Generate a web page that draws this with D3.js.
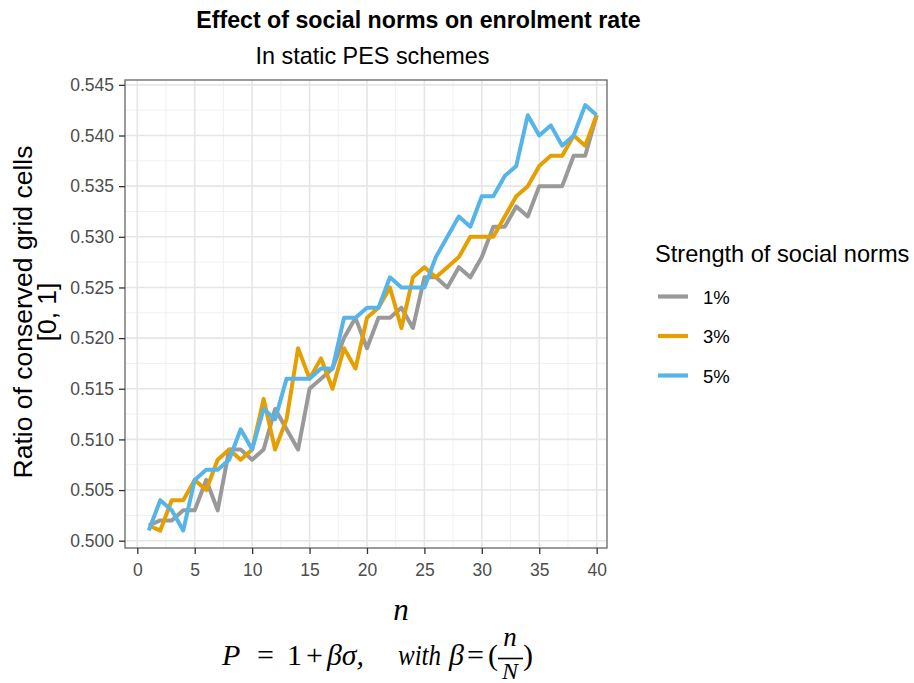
<!DOCTYPE html>
<html>
<head>
<meta charset="utf-8">
<script src="https://cdn.jsdelivr.net/npm/d3@7"></script>
<style>
  html, body { margin: 0; padding: 0; background: #ffffff; }
  svg { display: block; }
</style>
</head>
<body>
<svg id="chart" width="914" height="683"></svg>
<script>
// Number of neighbouring participants n
const nValues = [1, 2, 3, 4, 5, 6, 7, 8, 9, 10, 11, 12, 13, 14, 15, 16, 17, 18, 19, 20,
                 21, 22, 23, 24, 25, 26, 27, 28, 29, 30, 31, 32, 33, 34, 35, 36, 37, 38, 39, 40];

// Ratio of conserved grid cells for each strength of social norms
const norms1 = [0.5015, 0.502, 0.502, 0.503, 0.503, 0.506, 0.503, 0.509, 0.509, 0.508,
                0.509, 0.513, 0.511, 0.509, 0.515, 0.516, 0.517, 0.520, 0.522, 0.519,
                0.522, 0.522, 0.523, 0.521, 0.526, 0.526, 0.525, 0.527, 0.526, 0.528,
                0.531, 0.531, 0.533, 0.532, 0.535, 0.535, 0.535, 0.538, 0.538, 0.542];
const norms3 = [0.5015, 0.501, 0.504, 0.504, 0.506, 0.505, 0.508, 0.509, 0.508, 0.509,
                0.514, 0.509, 0.512, 0.519, 0.516, 0.518, 0.515, 0.519, 0.517, 0.522,
                0.523, 0.525, 0.521, 0.526, 0.527, 0.526, 0.527, 0.528, 0.530, 0.530,
                0.530, 0.532, 0.534, 0.535, 0.537, 0.538, 0.538, 0.540, 0.539, 0.542];
const norms5 = [0.501, 0.504, 0.503, 0.501, 0.506, 0.507, 0.507, 0.508, 0.511, 0.509,
                0.513, 0.512, 0.516, 0.516, 0.516, 0.517, 0.517, 0.522, 0.522, 0.523,
                0.523, 0.526, 0.525, 0.525, 0.525, 0.528, 0.530, 0.532, 0.531, 0.534,
                0.534, 0.536, 0.537, 0.542, 0.540, 0.541, 0.539, 0.540, 0.543, 0.542];

const seriesNames = ["1%", "3%", "5%"];
const seriesColors = ["#999999", "#E69F00", "#56B4E9"];

const xTicks = [0, 5, 10, 15, 20, 25, 30, 35, 40];
const yTicks = [0.500, 0.505, 0.510, 0.515, 0.520, 0.525, 0.530, 0.535, 0.540, 0.545];

const titleText = "Effect of social norms on enrolment rate";
const subtitleText = "In static PES schemes";
const yTitleLines = ["Ratio of conserved grid cells", "[0, 1]"];
const legendTitle = "Strength of social norms";

const svg = d3.select("#chart");
const sans = "'Liberation Sans', Arial, Helvetica, sans-serif";
const serif = "'Liberation Serif', 'DejaVu Serif', 'Times New Roman', serif";

// Panel geometry
const panel = { left: 125, right: 607, top: 80, bottom: 548 };

const x = d3.scaleLinear().domain([-1.07, 40.9]).range([panel.left, panel.right]);
const y = d3.scaleLinear().domain([0.49928, 0.54548]).range([panel.bottom, panel.top]);

// Panel background
svg.append("rect")
  .attr("x", panel.left).attr("y", panel.top)
  .attr("width", panel.right - panel.left).attr("height", panel.bottom - panel.top)
  .attr("fill", "#ffffff");

const grid = svg.append("g");

// Minor grid lines halfway between major ticks
const xMinor = xTicks.slice(0, -1).map(d => d + 2.5);
const yMinor = yTicks.slice(0, -1).map(d => d + 0.0025);

grid.selectAll("line.xminor").data(xMinor).join("line")
  .attr("x1", d => x(d)).attr("x2", d => x(d))
  .attr("y1", panel.top).attr("y2", panel.bottom)
  .attr("stroke", "#f0f0f0").attr("stroke-width", 1);
grid.selectAll("line.yminor").data(yMinor).join("line")
  .attr("y1", d => y(d)).attr("y2", d => y(d))
  .attr("x1", panel.left).attr("x2", panel.right)
  .attr("stroke", "#f0f0f0").attr("stroke-width", 1);

// Major grid lines
grid.selectAll("line.xmajor").data(xTicks).join("line")
  .attr("x1", d => x(d)).attr("x2", d => x(d))
  .attr("y1", panel.top).attr("y2", panel.bottom)
  .attr("stroke", "#e6e6e6").attr("stroke-width", 1.6);
grid.selectAll("line.ymajor").data(yTicks).join("line")
  .attr("y1", d => y(d)).attr("y2", d => y(d))
  .attr("x1", panel.left).attr("x2", panel.right)
  .attr("stroke", "#e6e6e6").attr("stroke-width", 1.6);

// Series lines
const series = [norms1, norms3, norms5].map((vals, i) => ({
  name: seriesNames[i],
  color: seriesColors[i],
  points: vals.map((v, j) => ({ n: nValues[j], v: v }))
}));

const line = d3.line().x(d => x(d.n)).y(d => y(d.v));

svg.append("g").selectAll("path").data(series).join("path")
  .attr("d", d => line(d.points))
  .attr("fill", "none")
  .attr("stroke", d => d.color)
  .attr("stroke-width", 4)
  .attr("stroke-linejoin", "round")
  .attr("stroke-linecap", "butt");

// Panel border
svg.append("rect")
  .attr("x", panel.left).attr("y", panel.top)
  .attr("width", panel.right - panel.left).attr("height", panel.bottom - panel.top)
  .attr("fill", "none").attr("stroke", "#666666").attr("stroke-width", 1.3);

// Axes
const xAxis = d3.axisBottom(x).tickValues(xTicks).tickFormat(d3.format("d"))
  .tickSizeInner(6).tickSizeOuter(0).tickPadding(5);
const yAxis = d3.axisLeft(y).tickValues(yTicks).tickFormat(d3.format(".3f"))
  .tickSizeInner(6).tickSizeOuter(0).tickPadding(5);

const gx = svg.append("g").attr("transform", `translate(0,${panel.bottom})`).call(xAxis);
const gy = svg.append("g").attr("transform", `translate(${panel.left},0)`).call(yAxis);

[gx, gy].forEach(g => {
  g.select(".domain").remove();
  g.selectAll(".tick line").attr("stroke", "#333333").attr("stroke-width", 1.3);
  g.selectAll(".tick text")
    .attr("fill", "#4d4d4d")
    .style("font-family", sans)
    .style("font-size", "17.5px");
});
gx.selectAll(".tick text").attr("dy", "0.95em");

// Titles
svg.append("text")
  .attr("x", 418.5).attr("y", 28)
  .attr("text-anchor", "middle")
  .style("font-family", sans).style("font-weight", "bold").style("font-size", "23.2px")
  .attr("fill", "#000000")
  .text(titleText);

svg.append("text")
  .attr("x", 372.5).attr("y", 64)
  .attr("text-anchor", "middle")
  .style("font-family", sans).style("font-size", "23.4px")
  .attr("fill", "#000000")
  .text(subtitleText);

// Y axis title (two lines)
const yTitle = svg.append("text")
  .attr("transform", `translate(32,312) rotate(-90)`)
  .attr("text-anchor", "middle")
  .style("font-family", sans).style("font-size", "26.5px")
  .attr("fill", "#000000");
yTitle.selectAll("tspan").data(yTitleLines).join("tspan")
  .attr("x", 0).attr("dy", (d, i) => i === 0 ? 0 : "0.92em")
  .text(d => d);

// Legend
const legend = svg.append("g");
legend.append("text")
  .attr("x", 655).attr("y", 262)
  .style("font-family", sans).style("font-size", "23.6px")
  .attr("fill", "#000000")
  .text(legendTitle);

const keys = legend.selectAll("g.key").data(series).join("g")
  .attr("transform", (d, i) => `translate(0,${296.5 + i * 39.5})`);
keys.append("line")
  .attr("x1", 658).attr("x2", 688).attr("y1", 0).attr("y2", 0)
  .attr("stroke", d => d.color).attr("stroke-width", 4.2);
keys.append("text")
  .attr("x", 703).attr("y", 7)
  .style("font-family", sans).style("font-size", "18.5px")
  .attr("fill", "#000000")
  .text(d => d.name);

// X axis title and formula
const math = svg.append("g").attr("fill", "#000000").style("font-family", serif);

math.append("text")
  .attr("x", 401).attr("y", 620).attr("text-anchor", "middle")
  .style("font-style", "italic").style("font-size", "31px")
  .text("n");

const formula = [
  { t: "P", x: 222, it: true },
  { t: "=", x: 257, it: false },
  { t: "1", x: 287, it: false },
  { t: "+", x: 306, it: false },
  { t: "βσ,", x: 327, it: true, w: 37 },
  { t: "with", x: 398, it: true, w: 43 },
  { t: "β", x: 449, it: true },
  { t: "=", x: 467, it: false },
  { t: "(", x: 488, it: false },
  { t: ")", x: 523, it: false }
];
const fText = math.selectAll("text.f").data(formula).join("text")
  .attr("class", "f")
  .attr("x", d => d.x).attr("y", 665).attr("text-anchor", "start")
  .style("font-style", d => d.it ? "italic" : "normal")
  .style("font-size", "30px")
  .text(d => d.t);
fText.filter(d => d.w).attr("textLength", d => d.w).attr("lengthAdjust", "spacingAndGlyphs");

// Fraction n / N
math.append("text")
  .attr("x", 510).attr("y", 646).attr("text-anchor", "middle")
  .style("font-style", "italic").style("font-size", "27px")
  .text("n");
math.append("line")
  .attr("x1", 498).attr("x2", 523).attr("y1", 658.5).attr("y2", 658.5)
  .attr("stroke", "#000000").attr("stroke-width", 1.6);
math.append("text")
  .attr("x", 510).attr("y", 679).attr("text-anchor", "middle")
  .style("font-style", "italic").style("font-size", "24px")
  .text("N");
</script>
</body>
</html>
